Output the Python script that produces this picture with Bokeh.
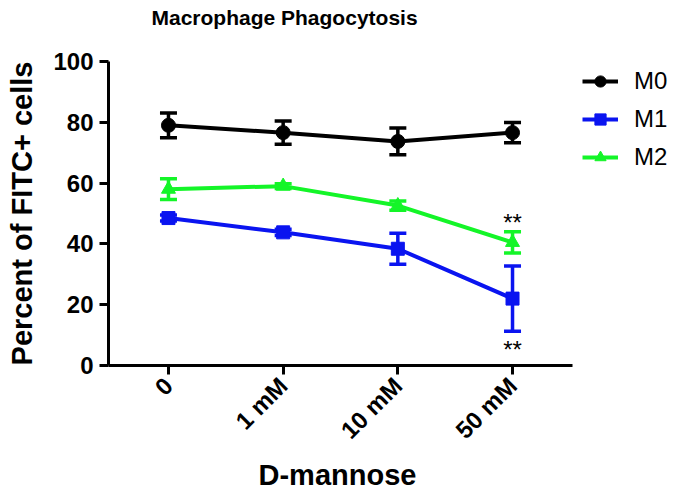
from bokeh.plotting import figure
from bokeh.models import (ColumnDataSource, Whisker, TeeHead, Legend, LegendItem,
                          FixedTicker, Range1d, Title)
from bokeh.core.properties import value
from bokeh.embed import file_html
from bokeh.resources import INLINE

categories = ["0", "1 mM", "10 mM", "50 mM"]
xpos = [0, 1, 2, 3]

m0 = [79.0, 76.6, 73.7, 76.6]
m0_err = [4.1, 3.8, 4.4, 3.3]
m1 = [48.5, 43.8, 38.4, 22.0]
m1_err = [1.0, 1.0, 5.1, 10.7]
m2 = [58.0, 59.0, 52.6, 40.5]
m2_err = [3.4, 0.8, 1.5, 3.5]

star_x = [3, 3]
star_y = [47.0, 5.2]
star_text = ["**", "**"]

FONT = "Liberation Sans"

p = figure(width=672, height=490, output_backend="svg", toolbar_location=None,
           x_range=Range1d(-0.523, 4.395), y_range=Range1d(0, 100),
           min_border_left=108, min_border_right=0, min_border_top=61,
           min_border_bottom=124)
p.title = Title(text="Macrophage Phagocytosis", align="left", offset=43,
                text_font=FONT, text_font_size="21px", text_font_style="bold",
                text_color="black", standoff=0, vertical_align="top")
# spacer between the title and the plotting area
p.add_layout(Title(text=" ", text_font_size="1px", standoff=28), "above")
p.outline_line_color = None
p.grid.visible = False
p.background_fill_color = "white"

for ax in (p.xaxis, p.yaxis):
    ax.axis_line_width = 3
    ax.major_tick_line_width = 3
    ax.major_tick_out = 9
    ax.major_tick_in = 0
    ax.minor_tick_line_color = None
    ax.major_label_text_font = FONT
    ax.major_label_text_font_style = "bold"
    ax.major_label_text_font_size = "24px"
    ax.axis_label_text_font = FONT
    ax.axis_label_text_font_style = "bold"
    ax.axis_label_text_font_size = "29px"
    ax.axis_label_text_color = "black"
    ax.major_label_text_color = "black"

p.yaxis.ticker = FixedTicker(ticks=[0, 20, 40, 60, 80, 100])
p.yaxis.axis_label = "Percent of FITC+ cells"
p.yaxis.major_label_standoff = 6
p.yaxis.axis_label_standoff = 12
p.yaxis.bounds = (0, 100)

p.xaxis.ticker = FixedTicker(ticks=xpos)
p.xaxis.major_label_overrides = {x: c for x, c in zip(xpos, categories)}
p.xaxis.major_label_orientation = 0.785398
p.xaxis.major_label_standoff = 7
p.xaxis.bounds = (-0.523, 3.52)

p.add_layout(Title(text="D-mannose", align="left", offset=150,
                   text_font=FONT, text_font_size="29px", text_font_style="bold",
                   text_color="black", standoff=0), "below")

series = [
    ("M0", m0, m0_err, "black", "circle", 14),
    ("M1", m1, m1_err, "#0a14f0", "square", 13),
    ("M2", m2, m2_err, "#14f528", "triangle", 14),
]

items = []
for name, vals, errs, color, marker, size in series:
    src = ColumnDataSource(dict(
        x=xpos, y=vals,
        upper=[v + e for v, e in zip(vals, errs)],
        lower=[v - e for v, e in zip(vals, errs)]))
    w = Whisker(source=src, base="x", upper="upper", lower="lower",
                line_color=color, line_width=3.5,
                upper_head=TeeHead(size=17, line_color=color, line_width=3.5),
                lower_head=TeeHead(size=17, line_color=color, line_width=3.5))
    p.add_layout(w)
    ln = p.line("x", "y", source=src, line_color=color, line_width=4)
    sc = p.scatter("x", "y", source=src, marker=marker, size=size,
                   fill_color=color, line_color=color)
    items.append(LegendItem(label=name, renderers=[ln, sc]))

p.text(x=star_x, y=star_y, text=star_text, text_font=value(FONT),
       text_font_size="24px", text_align="center", text_baseline="middle",
       text_color="black")

legend = Legend(items=items, location=(474, 194), orientation="vertical",
                label_text_font=FONT, label_text_font_size="24px",
                label_text_color="black",
                glyph_width=36, glyph_height=28, label_standoff=16,
                spacing=10, padding=0, margin=0, border_line_color=None,
                background_fill_alpha=0)
p.add_layout(legend, "center")

open("out.html", "w").write(file_html(p, INLINE))
